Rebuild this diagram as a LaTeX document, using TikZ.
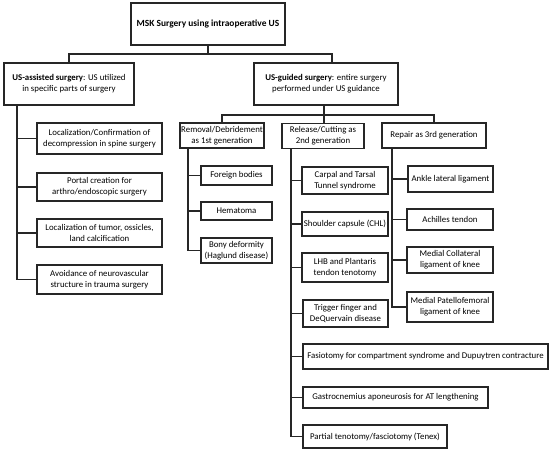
\documentclass[tikz,border=0pt]{standalone}
\usepackage{fontspec}
\setmainfont{Carlito}
\begin{document}
\begin{tikzpicture}[x=1pt,y=-1pt,
  box/.style={draw=black!85,line width=1.1pt,align=center,inner sep=0pt,
    font=\fontsize{8.8}{11}\selectfont},
  conn/.style={draw=black!85,line width=1.1pt}]
\useasboundingbox (0,0) rectangle (550,452);
% level 0-1
\node[box,minimum width=154,minimum height=42,font=\fontsize{9.4}{11}\selectfont\bfseries] (top) at (208,24) {MSK Surgery using intraoperative US};
\node[box,minimum width=130,minimum height=42] (L) at (69,84) {\textbf{US-assisted surgery}: US utilized\\in specific parts of surgery};
\node[box,minimum width=144,minimum height=42] (R) at (326,84) {\textbf{US-guided surgery}: entire surgery\\performed under US guidance};
% left column
\node[box,minimum width=125,minimum height=31] (L1) at (99.5,138.5) {Localization/Confirmation of\\decompression in spine surgery};
\node[box,minimum width=125,minimum height=28] (L2) at (99.5,187) {Portal creation for\\arthro/endoscopic surgery};
\node[box,minimum width=125,minimum height=28] (L3) at (99.5,233) {Localization of tumor, ossicles,\\land calcification};
\node[box,minimum width=125,minimum height=29] (L4) at (99.5,279.5) {Avoidance of neurovascular\\structure in trauma surgery};
% generations
\node[box,minimum width=84,minimum height=25] (Rem) at (222,135.5) {Removal/Debridement\\as 1st generation};
\node[box,minimum width=82,minimum height=25] (Rel) at (323,136) {Release/Cutting as\\2nd generation};
\node[box,minimum width=104,minimum height=25] (Rep) at (434,135.5) {Repair as 3rd generation};
% removal
\node[box,minimum width=71,minimum height=19] (F1) at (236.5,175.5) {Foreign bodies};
\node[box,minimum width=71,minimum height=18] (F2) at (236.5,211) {Hematoma};
\node[box,minimum width=71,minimum height=25] (F3) at (236.5,250.5) {Bony deformity\\(Haglund disease)};
% release
\node[box,minimum width=86,minimum height=27] (C1) at (345,180.5) {Carpal and Tarsal\\Tunnel syndrome};
\node[box,minimum width=86,minimum height=24] (C2) at (345,224) {Shoulder capsule (CHL)};
\node[box,minimum width=86,minimum height=29] (C3) at (345,267.5) {LHB and Plantaris\\tendon tenotomy};
\node[box,minimum width=85,minimum height=27] (C4) at (345.5,313.5) {Trigger finger and\\DeQuervain disease};
\node[box,minimum width=245,minimum height=25] (C5) at (425.5,356.5) {Fasiotomy for compartment syndrome and Dupuytren contracture};
\node[box,minimum width=185,minimum height=21] (C6) at (395.5,397.5) {Gastrocnemius aponeurosis for AT lengthening};
\node[box,minimum width=144,minimum height=23] (C7) at (375,436.5) {Partial tenotomy/fasciotomy (Tenex)};
% repair
\node[box,minimum width=85,minimum height=26] (R1) at (450.5,179) {Ankle lateral ligament};
\node[box,minimum width=86,minimum height=21] (R2) at (450,219.5) {Achilles tendon};
\node[box,minimum width=86,minimum height=26] (R3) at (450,260) {Medial Collateral\\ligament of knee};
\node[box,minimum width=86,minimum height=30] (R4) at (450,307) {Medial Patellofemoral\\ligament of knee};
% bus coordinates
\coordinate (h1) at (0,54);
\coordinate (h2) at (0,115);
\coordinate (bL) at (17,0);
\coordinate (bRem) at (188,0);
\coordinate (bRel) at (291,0);
\coordinate (bRep) at (392,0);
\coordinate (rOut) at (324,0);
\coordinate (rIn) at (332,0);
% connectors level 0-1
\draw[conn] (top.south) -- (top.south |- h1);
\draw[conn] (L.north) -- (L.north |- h1) -- (rIn |- h1) -- (rIn |- R.north);
% R to generations
\draw[conn] (rOut |- R.south) -- (rOut |- Rel.north);
\draw[conn] (Rem.north) -- (Rem.north |- h2) -- (Rep.north |- h2) -- (Rep.north);
% left bus
\draw[conn] (bL |- L.south) |- (L4.west);
\foreach \n in {L1,L2,L3} \draw[conn] (bL |- \n.west) -- (\n.west);
% removal bus
\draw[conn] (bRem |- Rem.south) |- (F3.west);
\foreach \n in {F1,F2} \draw[conn] (bRem |- \n.west) -- (\n.west);
% release bus
\draw[conn] (bRel |- Rel.south) |- (C7.west);
\foreach \n in {C1,C2,C3,C4,C5,C6} \draw[conn] (bRel |- \n.west) -- (\n.west);
% repair bus
\draw[conn] (bRep |- Rep.south) |- (R4.west);
\foreach \n in {R1,R2,R3} \draw[conn] (bRep |- \n.west) -- (\n.west);
\end{tikzpicture}
\end{document}
